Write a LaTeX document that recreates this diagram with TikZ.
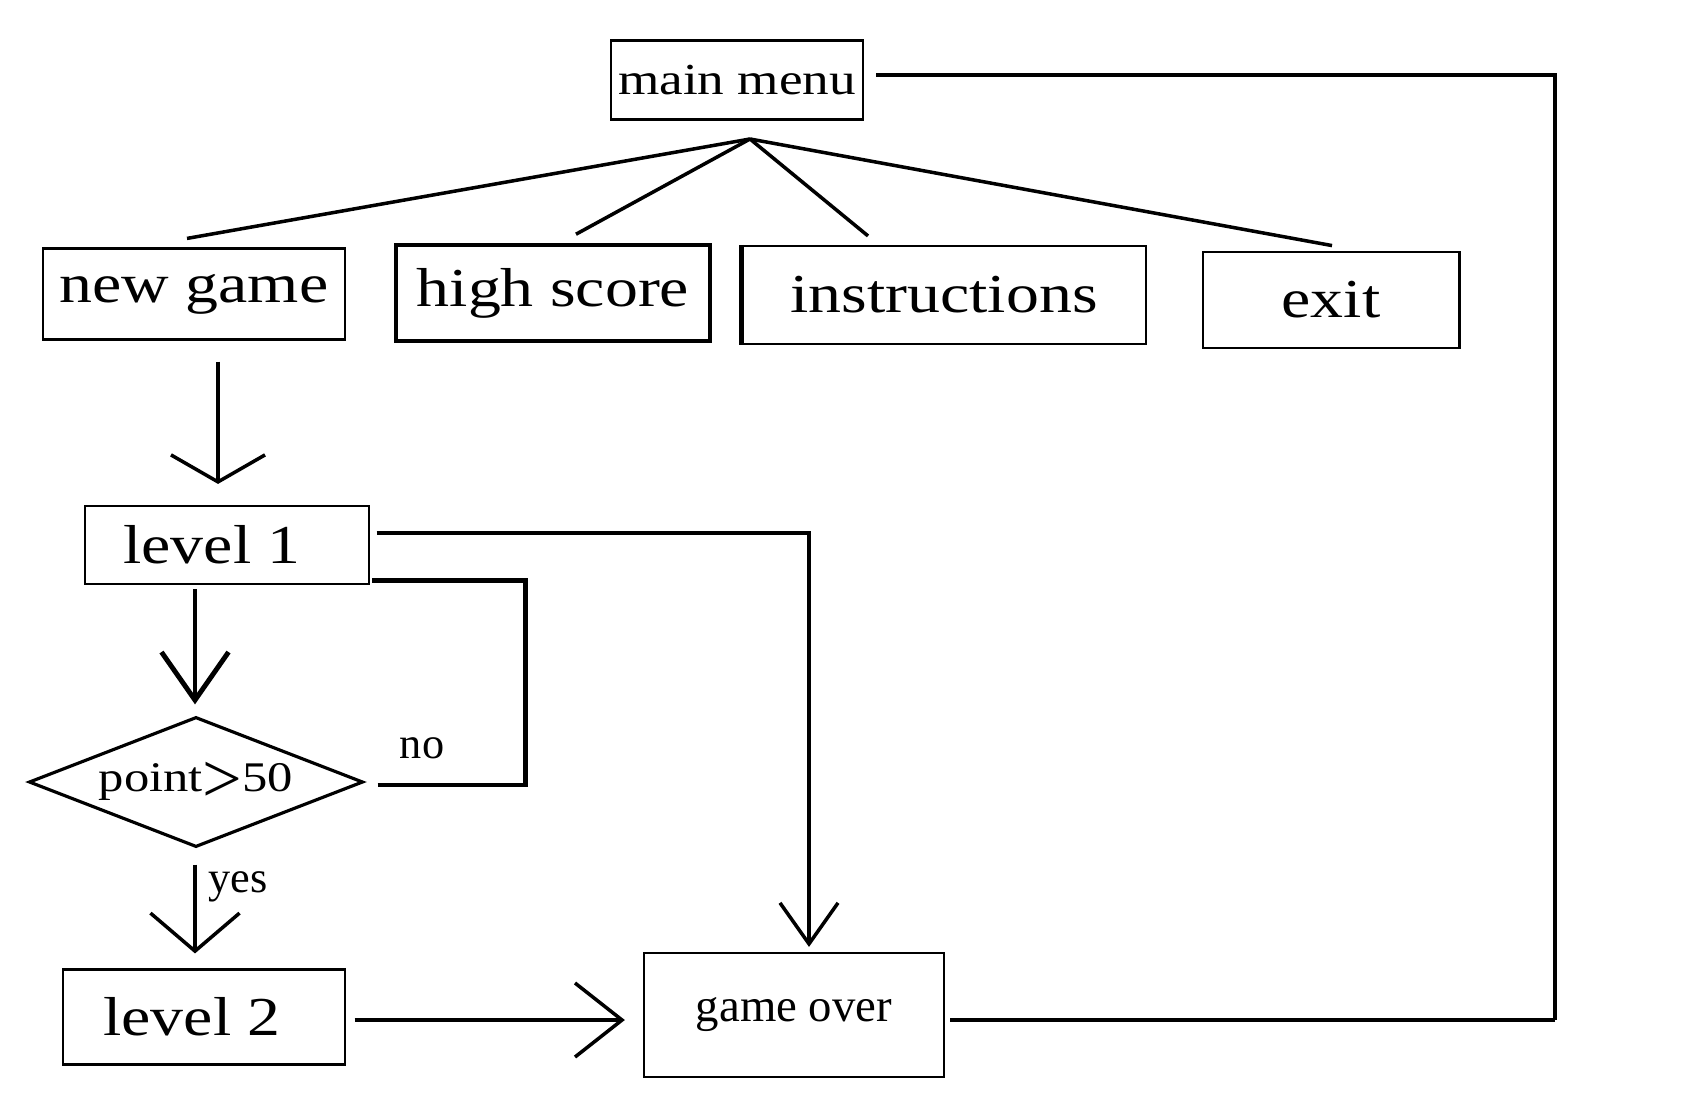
\documentclass[tikz,border=0pt]{standalone}
\usepackage{fontspec}
\setmainfont{Liberation Serif}
\newfontfamily\WideSerif[FakeStretch=1.2]{Liberation Serif}
\usepackage{tikz}
\usetikzlibrary{calc,arrows.meta,shapes.geometric,positioning}
\newcommand\BoxFont{\WideSerif\fontsize{15.6pt}{18pt}\selectfont}
\newcommand\MenuFont{\WideSerif\fontsize{12.6pt}{15pt}\selectfont}
\newcommand\NoteFont{\fontsize{12.6pt}{15pt}\selectfont}
\newcommand\OverFont{\fontsize{13.3pt}{16pt}\selectfont}
\newcommand\BigGt{\raisebox{-3pt}{\rmfamily\fontsize{20pt}{20pt}\selectfont>}}
\tikzstyle{stage}=[rectangle,draw,line width=0.6pt,inner sep=0pt,text centered,font=\BoxFont]
\tikzstyle{choice}=[diamond,draw,line width=0.9pt,inner sep=0pt,aspect=2.6,
                     minimum width=3.34cm,minimum height=1.3cm,font=\WideSerif\fontsize{12pt}{14pt}\selectfont]
\tikzstyle{link}=[line width=1pt]
\tikzstyle{heavy}=[line width=1.4pt]
\tikzset{barb/.style 2 args={-{Straight Barb[length=#1,width=#2]}}}

\begin{document}
\begin{tikzpicture}[x=0.01cm,y=-0.01cm]
      \path[use as bounding box] (0,0) rectangle (1698,1112);
      \node[stage,minimum width=2.52cm,minimum height=0.79cm,font=\MenuFont] (menu) at (737,80) {main menu};
      \node[stage,minimum width=3.01cm,minimum height=0.91cm] (newgame) at (194,294) {new game};
      \node[stage,line width=1pt,minimum width=3.14cm,minimum height=0.96cm] (highscore) at (553,293) {high score};
      \node[stage,minimum width=4.03cm,minimum height=0.98cm] (instructions) at (944,295) {instructions};
      \node[stage,line width=0.8pt,minimum width=2.56cm,minimum height=0.96cm] (exit) at (1331,300) {exit};
      \node[stage,minimum width=2.83cm,minimum height=0.78cm] (level1) at (227,545) {level 1\hspace*{0.3cm}};
      \node[choice] (check) at (196,782) {point\BigGt50};
      \node[stage,minimum width=2.81cm,minimum height=0.95cm] (level2) at (204,1017) {level 2\hspace*{0.24cm}};
      \node[stage,minimum width=3.00cm,minimum height=1.24cm,font=\OverFont] (gameover) at (794,1015) {game over};
      \draw[line width=1.5pt] (instructions.north west) -- (instructions.south west);
      \coordinate (hub) at (750,139);
      \coordinate (menuturn) at (1555,75);
      \coordinate (overturn) at (1555,1020);
      \draw[link] (hub) -- ($(newgame.north)+(-7,-9)$);
      \draw[link] (hub) -- ($(highscore.north)+(23,-9)$);
      \draw[link] (hub) -- ($(instructions.north)+(-76,-9)$);
      \draw[link] (hub) -- ($(exit.north)+(1,-5)$);
      \draw[link] ($(menu.east)+(12,-5)$) -- (menuturn) -- (overturn);
      \draw[heavy] (overturn) -- ($(gameover.east)+(5,5)$);
      \draw[link,barb={0.27cm}{0.94cm}] ($(newgame.south)+(24,21)$) -- ($(level1.north)+(-9,-21)$);
      \draw[link,barb={0.41cm}{0.58cm}] ($(level1.east)+(7,-12)$) -| ($(gameover.north)+(15,-5)$);
      \draw[heavy,barb={0.48cm}{0.67cm}] ($(level1.south)+(-32,4)$) -- ($(check.north)+(-1,-11)$);
      \draw[heavy] ($(check.east)+(13,3)$) -- node[above=0.12cm,pos=0.3,font=\NoteFont] {no} ++(148,0) |- ($(level1.south east)+(2,-5)$);
      \draw[link,barb={0.38cm}{0.89cm}] ($(check.south)+(-1,16)$) -- node[right,pos=0.25,font=\NoteFont] {yes} ($(level2.north)+(-9,-15)$);
      \draw[link,barb={0.47cm}{0.74cm}] ($(level2.east)+(9,3)$) -- ($(gameover.west)+(-18,5)$);
   \end{tikzpicture}
\end{document}
